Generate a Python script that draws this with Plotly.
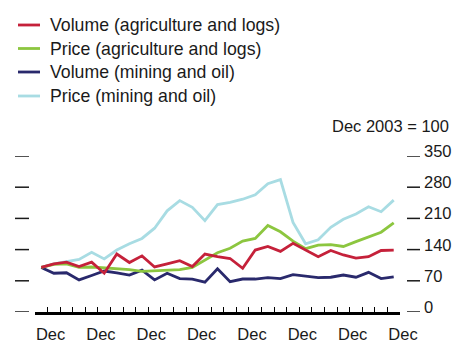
import plotly.graph_objects as go

# Quarterly index, Dec 2003 = 100 (Dec 2003 .. Dec 2010)
quarters = list(range(29))

vol_agri = [100, 108, 112, 102, 112, 87, 130, 111, 126, 101, 108, 115, 102, 130, 124,
            120, 98, 139, 147, 136, 154, 139, 124, 138, 128, 121, 124, 138, 139]
price_agri = [100, 107, 108, 100, 101, 99, 98, 95, 91, 92, 93, 95, 100, 117, 133,
              143, 159, 165, 194, 180, 159, 142, 150, 151, 147, 158, 169, 179, 200]
vol_mining = [100, 87, 88, 72, 82, 92, 88, 83, 94, 72, 87, 75, 74, 67, 97,
              68, 74, 74, 77, 75, 84, 80, 77, 78, 83, 78, 89, 75, 79]
price_mining = [100, 108, 113, 118, 134, 119, 139, 153, 165, 188, 227, 250, 235, 205, 241,
                246, 253, 263, 288, 297, 201, 153, 162, 190, 208, 220, 236, 225, 251]

y_ticks = [0, 70, 140, 210, 280, 350]
x_tick_pos = [0.5 + 4 * k for k in range(8)]
x_tick_text = ["Dec"] * 8

# legend order (top to bottom); drawn in reverse so the first series sits on top
legend_order = [
    ("Volume (agriculture and logs)", vol_agri, "#c5213a"),
    ("Price (agriculture and logs)", price_agri, "#8cc63f"),
    ("Volume (mining and oil)", vol_mining, "#29296c"),
    ("Price (mining and oil)", price_mining, "#a8dce3"),
]

FONT = "Liberation Sans"
TXT = "#1a1a1a"
W, H = 453, 345
ML, MR, MT, MB = 35, 53, 156, 33
PW, PH = W - ML - MR, H - MT - MB


def px(xp):
    return (xp - ML) / PW


def py(yp):
    return 1 - (yp - MT) / PH


fig = go.Figure()
for name, vals, col in reversed(legend_order):
    fig.add_trace(go.Scatter(x=quarters, y=vals, mode="lines", name=name,
                             showlegend=False, line=dict(color=col, width=2.8)))

shapes = []
annotations = []
for v in y_ticks:
    shapes.append(dict(type="line", xref="paper", yref="y", x0=px(15), x1=px(29),
                       y0=v, y1=v, line=dict(color=TXT, width=1.5)))
    shapes.append(dict(type="line", xref="paper", yref="y", x0=px(407), x1=px(420),
                       y0=v, y1=v, line=dict(color=TXT, width=1.5)))
    annotations.append(dict(xref="paper", yref="y", x=px(422), y=v, text=str(v),
                            showarrow=False, xanchor="left", yanchor="middle", yshift=5,
                            font=dict(family=FONT, size=16.5, color=TXT)))

annotations.append(dict(xref="paper", yref="paper", x=px(451), y=py(126), text="Dec 2003 = 100",
                        showarrow=False, xanchor="right", yanchor="middle",
                        font=dict(family=FONT, size=16.5, color=TXT)))

# key
key_rows = [25, 48.5, 72, 96]
for (name, _, col), yrow in zip(legend_order, key_rows):
    shapes.append(dict(type="line", xref="paper", yref="paper", x0=px(18), x1=px(40),
                       y0=py(yrow), y1=py(yrow), line=dict(color=col, width=2.8)))
    annotations.append(dict(xref="paper", yref="paper", x=px(48), y=py(yrow), text=name,
                            showarrow=False, xanchor="left", yanchor="middle",
                            font=dict(family=FONT, size=17.7, color=TXT)))

fig.update_layout(
    width=W, height=H,
    margin=dict(l=ML, r=MR, t=MT, b=MB, autoexpand=False),
    paper_bgcolor="white", plot_bgcolor="white",
    font=dict(family=FONT, size=16.5, color=TXT),
    showlegend=False,
    xaxis=dict(range=[-0.5, 28.5], showgrid=False, zeroline=False, automargin=False,
               showline=True, linecolor="black", linewidth=2.5,
               tickmode="array", tickvals=x_tick_pos, ticktext=x_tick_text,
               ticks="inside", ticklen=5, tickwidth=1.3, tickcolor="black",
               ticklabelstandoff=5, ticklabelshift=3,
               minor=dict(tick0=-0.5, dtick=1, ticks="inside", ticklen=5,
                          tickwidth=1.3, tickcolor="black", showgrid=False),
               tickfont=dict(family=FONT, size=16.5, color=TXT)),
    yaxis=dict(range=[0, 350], showgrid=False, zeroline=False, showline=False,
               automargin=False, showticklabels=False, ticks=""),
    shapes=shapes,
    annotations=annotations,
)

fig.write_html("out.html")
